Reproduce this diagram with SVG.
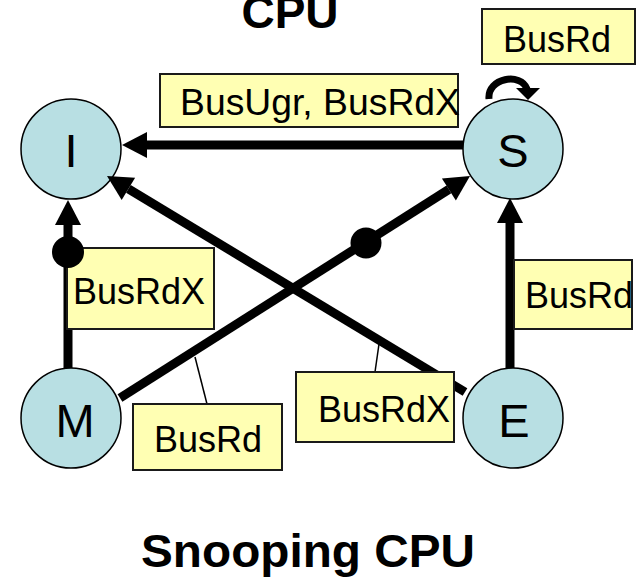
<svg xmlns="http://www.w3.org/2000/svg" width="637" height="577" viewBox="0 0 637 577">
  <style>
    .state { fill: #B8DFE3; stroke: #000; stroke-width: 1.5; }
    .state-label { font-family: "Liberation Sans", Arial, sans-serif; font-size: 47px; fill: #000; text-anchor: middle; }
    .edge { stroke: #000; stroke-width: 9; fill: none; }
    .box { fill: #FFFFB3; stroke: #1a1a1a; stroke-width: 2; }
    .box-text { font-family: "Liberation Sans", Arial, sans-serif; font-size: 36px; fill: #000; }
    .leader { stroke: #000; stroke-width: 1.5; }
    .title { font-family: "Liberation Sans", Arial, sans-serif; font-size: 46px; font-weight: bold; fill: #000; text-anchor: middle; }
  </style>
  <defs>
    <marker id="arrow" markerUnits="userSpaceOnUse" markerWidth="26" markerHeight="26" refX="0" refY="13" orient="auto" overflow="visible">
      <path d="M0,0 L25,13 L0,26 z" fill="#000"/>
    </marker>
  </defs>

  <rect width="637" height="577" fill="#fff"/>

  <!-- titles -->
  <text class="title" x="290" y="28">CPU</text>
  <text class="title" x="308" y="567" textLength="334" lengthAdjust="spacingAndGlyphs">Snooping CPU</text>

  <!-- states -->
  <g id="node-I">
    <circle class="state" cx="71" cy="149" r="50"/>
    <text class="state-label" x="71" y="167">I</text>
  </g>
  <g id="node-S">
    <circle class="state" cx="513" cy="149" r="50"/>
    <text class="state-label" x="513" y="167">S</text>
  </g>
  <g id="node-M">
    <circle class="state" cx="71" cy="418" r="50"/>
    <text class="state-label" x="75" y="437">M</text>
  </g>
  <g id="node-E">
    <circle class="state" cx="513" cy="418" r="50"/>
    <text class="state-label" x="514" y="437">E</text>
  </g>

  <!-- transitions -->
  <g id="connectors">
    <line class="edge" x1="463" y1="145" x2="147" y2="145" marker-end="url(#arrow)"/>
    <line class="edge" x1="68" y1="368" x2="68" y2="225" marker-end="url(#arrow)"/>
    <line class="edge" x1="510" y1="368" x2="510" y2="223" marker-end="url(#arrow)"/>
    <line class="edge" x1="465" y1="392" x2="128.4" y2="188.9" marker-end="url(#arrow)"/>
    <line class="edge" x1="120" y1="398" x2="448.9" y2="189.4" marker-end="url(#arrow)"/>
    <!-- self loop on S -->
    <path d="M489,99 C487,78 521,72 527,89" stroke="#000" stroke-width="7" fill="none"/>
    <polygon points="516,88 540,88 528,100" fill="#000"/>
  </g>

  <!-- leader lines from labels to their transitions -->
  <g id="leaders">
    <line class="leader" x1="195" y1="357" x2="207" y2="404"/>
    <line class="leader" x1="379" y1="344" x2="375" y2="372"/>
  </g>

  <!-- transition labels -->
  <g id="label-busrd-self">
    <rect class="box" x="482" y="9" width="153" height="55"/>
    <text class="box-text" x="503" y="52">BusRd</text>
  </g>
  <g id="label-busugr">
    <rect class="box" x="160" y="74" width="298" height="53"/>
    <text class="box-text" x="180" y="115" textLength="280" lengthAdjust="spacingAndGlyphs">BusUgr, BusRdX</text>
  </g>
  <g id="label-busrdx-mi">
    <rect class="box" x="67" y="248" width="147" height="81"/>
    <text class="box-text" x="73" y="304">BusRdX</text>
  </g>
  <g id="label-busrd-es">
    <rect class="box" x="514" y="260" width="118" height="69"/>
    <text class="box-text" x="525" y="308">BusRd</text>
  </g>
  <g id="label-busrd-ms">
    <rect class="box" x="133" y="404" width="149" height="66"/>
    <text class="box-text" x="154" y="452">BusRd</text>
  </g>
  <g id="label-busrdx-ei">
    <rect class="box" x="296" y="372" width="158" height="70"/>
    <text class="box-text" x="318" y="422">BusRdX</text>
  </g>

  <!-- flush markers on transitions -->
  <g id="flush-dots">
    <circle cx="68" cy="252" r="16" fill="#000"/>
    <circle cx="366" cy="243" r="15.5" fill="#000"/>
  </g>
</svg>
